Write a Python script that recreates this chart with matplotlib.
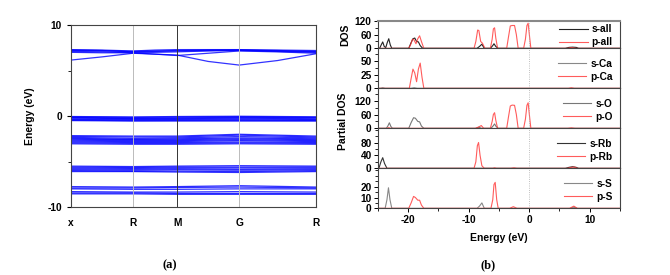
import matplotlib
matplotlib.use('Agg')
import matplotlib.pyplot as plt
from matplotlib.ticker import MultipleLocator

plt.rcParams['font.family'] = ['Liberation Sans', 'DejaVu Sans']
plt.rcParams['font.weight'] = 'bold'
plt.rcParams['axes.labelweight'] = 'bold'
plt.rcParams['font.size'] = 7.3
plt.rcParams['axes.unicode_minus'] = False

# ---- band structure data ----
k_labels = ['x', 'R', 'M', 'G', 'R']
k_points = [0, 0.62, 1.06, 1.68, 2.45]

# conduction bands sampled at x, mid, R, mid, M, mid, G, mid, R
cond_bands = [
	[6.15, 6.5, 6.9, 6.8, 6.7, 6.0, 5.6, 6.1, 6.85],
	[7.0, 6.95, 6.95, 6.8, 6.65, 6.9, 7.15, 7.05, 6.9],
	[7.1, 7.05, 6.95, 7.0, 7.05, 7.15, 7.2, 7.1, 7.0],
	[7.2, 7.15, 7.1, 7.15, 7.2, 7.25, 7.25, 7.2, 7.1],
	[7.3, 7.25, 7.15, 7.25, 7.3, 7.3, 7.3, 7.25, 7.2],
	[7.25, 7.2, 7.05, 7.1, 7.15, 7.2, 7.25, 7.15, 7.05],
]

# valence bands at x, R, M, G, R
val_bands = [
	[-0.05, -0.1, -0.05, -0.02, -0.08],
	[-0.1, -0.15, -0.12, -0.08, -0.15],
	[-0.15, -0.25, -0.2, -0.15, -0.2],
	[-0.2, -0.3, -0.28, -0.22, -0.3],
	[-0.3, -0.35, -0.35, -0.3, -0.38],
	[-0.38, -0.42, -0.42, -0.4, -0.45],
	[-0.45, -0.5, -0.48, -0.48, -0.5],
	[-0.5, -0.55, -0.55, -0.55, -0.55],
	[-2.15, -2.2, -2.2, -2.0, -2.2],
	[-2.25, -2.3, -2.3, -2.1, -2.3],
	[-2.35, -2.45, -2.4, -2.25, -2.4],
	[-2.45, -2.55, -2.5, -2.4, -2.5],
	[-2.55, -2.6, -2.6, -2.5, -2.6],
	[-2.65, -2.7, -2.7, -2.6, -2.7],
	[-2.75, -2.8, -2.8, -2.7, -2.8],
	[-2.85, -2.9, -2.9, -2.85, -2.9],
	[-2.95, -3.0, -3.0, -2.95, -3.0],
	[-3.05, -3.1, -3.1, -3.05, -3.1],
	[-5.5, -5.55, -5.5, -5.45, -5.5],
	[-5.6, -5.65, -5.6, -5.6, -5.6],
	[-5.7, -5.75, -5.7, -5.7, -5.7],
	[-5.8, -5.85, -5.8, -5.85, -5.8],
	[-5.9, -5.95, -5.9, -5.95, -5.9],
	[-6.0, -6.05, -6.05, -6.1, -6.0],
	[-6.1, -6.1, -6.15, -6.2, -6.1],
	[-7.75, -7.8, -7.75, -7.65, -7.8],
	[-7.9, -7.9, -7.85, -7.8, -7.9],
	[-8.0, -8.05, -8.05, -8.0, -8.0],
	[-8.3, -8.35, -8.35, -8.3, -8.35],
	[-8.45, -8.45, -8.5, -8.5, -8.5],
	[-8.55, -8.55, -8.6, -8.6, -8.6],
]

# ---- DOS data (energy, states) ----
s_all_E = [-25, -24.7, -24.45, -24.2, -23.95, -23.7, -23.45, -23.2, -22.95, -22.7, -19.9, -19.5, -19.2, -18.9, -18.6, -18.3, -18.0, -17.6, -8.6, -8.2, -7.8, -7.4, -6.4, -6.0, -5.8, -5.5, -5.1, 6.0, 6.6, 7.2, 7.8, 8.2, 15]
s_all_D = [0, 0, 15, 28, 8, 3, 25, 42, 15, 0, 0, 25, 42, 45, 30, 28, 12, 0, 0, 8, 18, 0, 0, 12, 20, 8, 0, 0, 4, 5, 4, 0, 0]
p_all_E = [-25, -19.9, -19.6, -19.3, -19.1, -18.7, -18.4, -18.1, -17.8, -17.4, -9.1, -8.8, -8.5, -8.3, -8.0, -7.7, -7.3, -6.4, -6.1, -5.9, -5.7, -5.5, -5.2, -3.7, -3.4, -3.1, -2.8, -2.4, -2.1, -1.8, -0.9, -0.6, -0.35, -0.15, 0.05, 0.3, 6.3, 7.0, 7.8, 15]
p_all_D = [0, 0, 15, 38, 40, 20, 42, 55, 30, 0, 0, 30, 80, 78, 30, 22, 0, 0, 40, 85, 90, 45, 0, 0, 50, 98, 100, 100, 60, 0, 0, 40, 100, 110, 60, 0, 0, 3, 0, 0]

s_ca_E = [-25, -24.6, -24.2, -23.8, -19.5, -19.0, -18.5, 15]
s_ca_D = [0, 0, 1, 0, 0, 1, 0, 0]
p_ca_E = [-25, -19.8, -19.5, -19.2, -18.9, -18.6, -18.3, -18.0, -17.7, -17.4, 6.5, 7.0, 7.5, 15]
p_ca_D = [0, 0, 18, 35, 28, 12, 35, 46, 20, 0, 0, 1, 0, 0]

s_o_E = [-25, -23.6, -23.35, -23.1, -22.85, -22.6, -19.9, -19.5, -19.1, -18.8, -18.4, -18.1, -17.8, -17.4, -8.8, -8.3, -7.9, -6.3, -5.95, -5.7, -5.45, -5.1, 15]
s_o_D = [0, 0, 10, 24, 8, 0, 0, 25, 46, 44, 30, 28, 10, 0, 0, 5, 0, 0, 10, 19, 8, 0, 0]
p_o_E = [-25, -23.5, -23.2, -22.9, -8.9, -8.3, -7.9, -7.5, -6.4, -6.1, -5.9, -5.7, -5.5, -5.2, -3.7, -3.4, -3.1, -2.8, -2.4, -2.1, -1.8, -0.9, -0.6, -0.35, -0.15, 0.05, 0.3, 6.4, 7.0, 7.6, 15]
p_o_D = [0, 0, 3, 0, 0, 6, 12, 0, 0, 30, 60, 68, 35, 0, 0, 50, 97, 101, 100, 60, 0, 0, 40, 100, 111, 60, 0, 0, 2, 0, 0]

s_rb_E = [-25, -24.8, -24.5, -24.2, -23.9, -23.5, 6.0, 6.6, 7.2, 7.8, 8.2, 15]
s_rb_D = [0, 2, 20, 33, 15, 0, 0, 3, 5, 3, 0, 0]
p_rb_E = [-25, -9.1, -8.8, -8.55, -8.35, -8.1, -7.8, -7.4, -6.0, -5.7, -5.4, -3.0, -2.5, -2.0, 6.3, 7.0, 7.5, 8.0, 15]
p_rb_D = [0, 0, 20, 70, 80, 40, 8, 0, 0, 1.5, 0, 0, 1.5, 0, 0, 3, 4, 0, 0]

s_s_E = [-25, -23.8, -23.5, -23.25, -23.0, -22.7, -8.6, -8.2, -7.8, -7.4, 6.8, 7.4, 8.0, 15]
s_s_D = [0, 0, 8, 19, 8, 0, 0, 2, 5, 0, 0, 1, 0, 0]
p_s_E = [-25, -19.9, -19.5, -19.1, -18.8, -18.4, -18.1, -17.8, -17.4, -6.3, -6.0, -5.8, -5.6, -5.35, -5.1, -3.2, -2.6, -2.0, 6.7, 7.4, 8.0, 15]
p_s_D = [0, 0, 5, 11, 10, 7.5, 7.5, 3, 0, 0, 8, 22, 24, 8, 0, 0, 1.5, 0, 0, 2, 0, 0]

panels = [
	('all', s_all_E, s_all_D, p_all_E, p_all_D, 121, [0, 60, 120], '#222222'),
	('Ca', s_ca_E, s_ca_D, p_ca_E, p_ca_D, 73, [0, 25, 50], '#888888'),
	('O', s_o_E, s_o_D, p_o_E, p_o_D, 174, [0, 60, 120], '#777777'),
	('Rb', s_rb_E, s_rb_D, p_rb_E, p_rb_D, 124, [0, 40, 80], '#333333'),
	('S', s_s_E, s_s_D, p_s_E, p_s_D, 37, [0, 10, 20], '#888888'),
]

fig = plt.figure(figsize=(6.7, 2.75), dpi=100)

# ---- (a) band structure ----
ax = fig.add_axes([0.106, 0.247, 0.366, 0.662])
kf = []
for i in range(len(k_points) - 1):
	kf += [k_points[i], (k_points[i] + k_points[i + 1]) / 2]
kf.append(k_points[-1])
for b in cond_bands:
	ax.plot(kf, b, c='#0000ff', lw=0.9, alpha=0.8)
for b in val_bands:
	ax.plot(k_points, b, c='#0000ff', lw=0.9, alpha=0.8)
for i, k in enumerate(k_points[1:-1]):
	ax.axvline(k, color='#333333' if i == 1 else '#bbbbbb', lw=0.7)
ax.set_xlim(k_points[0], k_points[-1])
ax.set_ylim(-10, 10)
ax.set_xticks(k_points)
ax.set_xticklabels(k_labels)
ax.set_yticks([-10, 0, 10])
ax.yaxis.set_minor_locator(MultipleLocator(5))
ax.tick_params(axis='x', length=0, pad=8)
ax.tick_params(axis='y', which='major', length=3, direction='out')
ax.tick_params(axis='y', which='minor', length=2, direction='out')
ax.set_ylabel('Energy (eV)', fontsize=7.5, labelpad=9)
for s in ax.spines.values():
	s.set_color('#444444')
	s.set_linewidth(0.8)

# ---- (b) DOS panels ----
bottom, top = 0.2425, 0.9247
hts = [27.6, 40, 40, 40, 40]
scale = (top - bottom) / sum(hts)
y = top
axes = []
for j, (name, sE, sD, pE, pD, ymax, yt, sc) in enumerate(panels):
	h = hts[j] * scale
	y -= h
	a = fig.add_axes([0.564, y, 0.361, h])
	a.plot(sE, sD, c=sc, lw=0.8, label='s-' + name)
	a.plot(pE, pD, c='#ff3333', lw=0.8, alpha=0.8, label='p-' + name)
	a.axvline(0, color='#aaaaaa', lw=0.6, ls=':')
	a.set_xlim(-25, 15)
	a.set_ylim(0, ymax)
	a.set_yticks(yt)
	a.yaxis.set_minor_locator(MultipleLocator(yt[1] / 2))
	a.xaxis.set_major_locator(MultipleLocator(10))
	a.xaxis.set_minor_locator(MultipleLocator(5))
	a.tick_params(which='major', length=3, width=0.7, pad=1.5)
	a.tick_params(which='minor', length=2, width=0.6)
	if j < 4:
		a.tick_params(axis='x', labelbottom=False)
	for s in a.spines.values():
		s.set_color('#444444')
		s.set_linewidth(0.8)
	if j == 0:
		a.spines['top'].set_color('#888888')
		a.spines['top'].set_linewidth(1.5)
	a.legend(loc='center right', bbox_to_anchor=(1.0, 0.45), frameon=False,
		fontsize=7.3, handlelength=2.8, labelspacing=0.3, borderaxespad=0.3,
		handletextpad=0.4)
	axes.append(a)

axes[0].set_ylabel('DOS', fontsize=7.5, labelpad=3)
axes[-1].set_xlabel('Energy (eV)', fontsize=7.5, labelpad=6)
fig.text(0.512, 0.56, 'Partial DOS', rotation=90, ha='center', va='center',
	fontsize=7.5, fontweight='bold')

fig.text(0.254, 0.036, '(a)', ha='center', va='center', fontsize=9,
	family='Liberation Serif', fontweight='bold')
fig.text(0.728, 0.036, '(b)', ha='center', va='center', fontsize=9,
	family='Liberation Serif', fontweight='bold')

fig.savefig('out.png', dpi=100)
